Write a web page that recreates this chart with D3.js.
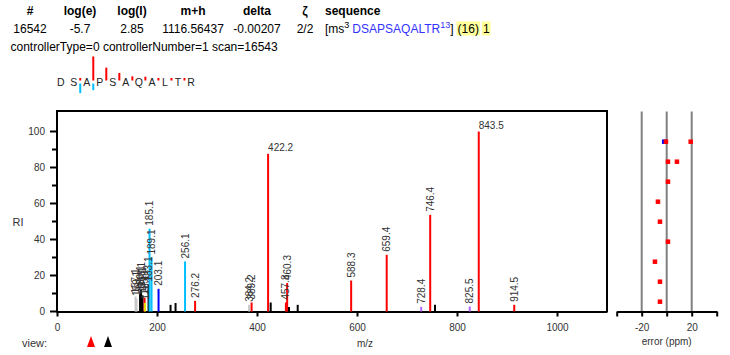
<!DOCTYPE html>
<html><head><meta charset="utf-8">
<script src="https://cdn.jsdelivr.net/npm/d3@7"></script>
<style>body{margin:0;background:#fff;overflow:hidden} svg{font-family:"Liberation Sans",Arial,sans-serif;display:block}</style>
</head><body><svg id="c" width="730" height="355"></svg>
<script>
// ---------- data ----------
const headerCols = ["#","log(e)","log(I)","m+h","delta","ζ","sequence"];
const headerVals = ["16542","-5.7","2.85","1116.56437","-0.00207","2/2"];
const peptide = "DSAPSAQALTR";
const residues = ["D","S","A","P","S","A","Q","A","L","T","R"];
const scanInfo = "controllerType=0 controllerNumber=1 scan=16543";
const msLevel = "3";
const seqStart = "13";
const seqCount = "(16)";
const seqRank = "1";
// fragment marks per cleavage (after residue i)
const yIonMarks = [0, 3.7, 100, 53.7, 31.5, 17.2, 15.8, 5, 5.9, 7.6];
const bIonMarks = [0, 40, 27.8, 0, 0, 0, 0, 0, 0, 0];
// spectrum peaks
const peakMz    = [157.1,159.1,166.1,168.1,171.1,175.1,176.1,183.1,185.1,189.1,203.1,227.1,237.1,256.1,276.2,384.2,389.2,422.2,427.4,457.8,460.3,464.0,481.4,588.3,659.4,728.4,746.4,756.0,825.5,843.5,914.5];
const peakInt   = [8.3,7.0,10,12,9,7.6,4.8,15,46,30,12.6,3.7,4.7,27.8,5.9,3.7,5.0,87.6,5.0,5.0,15.8,2.5,3.7,17.2,31.5,2.6,53.7,3.7,2.8,100,3.7];
const peakType  = ["o","o","n","n","n","y","u","n","bw","bw","b","n","n","bw","y","o","y","y","n","y","y","n","n","y","y","yw","y","n","yw","y","y"];
const peakLabel = ["157.1","159.1","166.1","168.1","171.1","175.1","176.1","183.1","185.1","189.1","203.1","","","256.1","276.2","384.2","389.2","422.2","","457.8","460.3","","","588.3","659.4","728.4","746.4","","825.5","843.5","914.5"];
const xTicks = [0,200,400,600,800,1000];
const yTicks = [0,10,20,30,40,50,60,70,80,90,100];
// mass error panel
const errRow  = [9,9,9,8,8,7,6,5,4,3,2,1];
const errPpm  = [-2.0,-0.6,19.2,1.0,8.2,1.0,-7.0,-5.4,1.0,-9.4,-5.4,-5.4];
const errType = ["b","y","y","y","y","y","y","y","y","y","y","y"];
const errTicks = [-40,-20,0,20,40];
const errGrid = [-20,0,20];

const colors = {y:"#ff0000", yw:"#b366ff", b:"#0000ff", bw:"#00bfff", n:"#000000", o:"#c8c8c8", u:"#e6e600"};

// ---------- drawing ----------
const svg = d3.select("#c");
const txt = "#333";

// header
const colX = [30,80,132,193,257,305];
headerCols.forEach((h,i)=>{
  svg.append("text").attr("x", i<6?colX[i]:325).attr("y",14.5)
    .attr("text-anchor", i<6?"middle":"start").attr("font-size",12).attr("font-weight","bold").attr("fill","#000").text(h);
});
headerVals.forEach((v,i)=>{
  svg.append("text").attr("x",colX[i]).attr("y",32.5).attr("text-anchor","middle").attr("font-size",12).attr("fill","#000").text(v);
});
// sequence cell
(function(){
  let x = 325; const yb = 32.5;
  function put(s, opt){
    const t = svg.append("text").attr("x",x).attr("y",yb - (opt.sup?5:0)).attr("font-size",opt.sup?9:12).attr("fill",opt.fill||"#000").text(s);
    const w = t.node().getComputedTextLength();
    if(opt.hl){ svg.insert("rect","text").attr("x",x-1).attr("y",yb-11).attr("width",w+2).attr("height",14).attr("fill","#ffff99"); }
    x += w;
    return t;
  }
  put("[ms",{}); put(msLevel,{sup:true}); x+=3;
  put(peptide,{fill:"#3333ff"}); put(seqStart,{sup:true,fill:"#3333ff"});
  put("]",{}); x+=4;
  put(seqCount,{hl:true}); x+=4; put(seqRank,{hl:true});
})();
svg.append("text").attr("x",10.5).attr("y",50.5).attr("font-size",12).attr("fill","#000").text(scanInfo);

// sequence fragment diagram
const resX = d3.scaleLinear().domain([0,10]).range([60.7,191]);
const markH = d3.scaleLinear().domain([0,100]).range([0,24]);
svg.append("g").selectAll("text").data(residues).enter().append("text")
  .attr("x",(d,i)=>resX(i)).attr("y",86).attr("text-anchor","middle").attr("font-size",10.5).attr("fill","#222").text(d=>d);
yIonMarks.forEach((v,i)=>{
  if(v<=0) return;
  const h = Math.max(2.5, markH(v));
  svg.append("rect").attr("x",resX(i+0.5)-1).attr("y",80.5-h).attr("width",2).attr("height",h).attr("fill",colors.y);
});
bIonMarks.forEach((v,i)=>{
  if(v<=0) return;
  const h = Math.max(2.5, markH(v));
  svg.append("rect").attr("x",resX(i+0.5)-1).attr("y",83.5).attr("width",2).attr("height",h).attr("fill",colors.bw);
});

// main spectrum
const x = d3.scaleLinear().domain([0,1100]).range([57,607]);
const y = d3.scaleLinear().domain([0,100]).range([311.5,131.5]);

// frame
svg.append("line").attr("x1",56).attr("x2",608).attr("y1",111).attr("y2",111).attr("stroke","#000").attr("stroke-width",2);
svg.append("line").attr("x1",607).attr("x2",607).attr("y1",111).attr("y2",312).attr("stroke","#000").attr("stroke-width",2);

// y axis
svg.append("line").attr("x1",57).attr("x2",57).attr("y1",110).attr("y2",312.5).attr("stroke","#000").attr("stroke-width",2);
yTicks.forEach(t=>{
  const major = t%20===0;
  svg.append("line").attr("x1",major?50:52).attr("x2",57).attr("y1",y(t)).attr("y2",y(t)).attr("stroke","#000").attr("stroke-width",2);
  if(major) svg.append("text").attr("x",45).attr("y",y(t)+3.5).attr("text-anchor","end").attr("font-size",10).attr("fill",txt).text(t);
});
svg.append("text").attr("x",18).attr("y",226).attr("text-anchor","middle").attr("font-size",11).attr("fill",txt).text("RI");

// x axis
const gx = svg.append("g").attr("transform","translate(0,311.5)")
  .call(d3.axisBottom(x).tickValues(xTicks).tickSize(5).tickPadding(7).tickSizeOuter(0).tickFormat(d3.format("d")));
gx.select(".domain").attr("stroke-width",2).attr("stroke","#000");
gx.selectAll(".tick line").attr("stroke-width",2).attr("stroke","#000");
gx.selectAll(".tick text").attr("font-size",10).attr("fill",txt).attr("font-family","Liberation Sans, Arial, sans-serif");
svg.append("text").attr("x",365).attr("y",347).attr("text-anchor","middle").attr("font-size",10).attr("fill",txt).text("m/z");

// peaks
const peaks = peakMz.map((m,i)=>({m, v:peakInt[i], t:peakType[i], l:peakLabel[i]}));
svg.append("g").selectAll("line").data(peaks).enter().append("line")
  .attr("x1",d=>x(d.m)).attr("x2",d=>x(d.m)).attr("y1",y(0)).attr("y2",d=>y(d.v))
  .attr("stroke",d=>colors[d.t]).attr("stroke-width",2);
const lab = svg.append("g").selectAll("text").data(peaks.filter(d=>d.l)).enter().append("text")
  .attr("font-size",10).attr("fill",txt).text(d=>d.l);
lab.filter(d=>d.v>80).attr("x",d=>x(d.m)).attr("y",d=>y(d.v)-2.5);
lab.filter(d=>d.v<=80).attr("transform",d=>`translate(${x(d.m)+3.5},${y(d.v)-3}) rotate(-90)`);

// view controls
svg.append("text").attr("x",22).attr("y",347).attr("font-size",11).attr("fill",txt).text("view:");
[[91,"#ff0000"],[108,"#000"]].forEach(([cx,c])=>{
  svg.append("path").attr("d",`M${cx-4},347 L${cx},336 L${cx+4},347 Z`).attr("fill",c);
});

// error panel
const ex = d3.scaleLinear().domain([-40,40]).range([616.7,716.7]);
const ey = d3.scaleLinear().domain([1,9]).range([301.7,141.7]);
errGrid.forEach(g=>{
  svg.append("line").attr("x1",ex(g)).attr("x2",ex(g)).attr("y1",111.5).attr("y2",311).attr("stroke","#808080").attr("stroke-width",2);
});
const gex = svg.append("g").attr("transform","translate(0,311.5)")
  .call(d3.axisBottom(ex).tickValues(errTicks).tickSize(5).tickPadding(7).tickSizeOuter(0).tickFormat(d=>(d===-20||d===20)?d:""));
gex.select(".domain").attr("stroke-width",2).attr("stroke","#000");
gex.selectAll(".tick line").attr("stroke-width",2).attr("stroke","#000");
gex.selectAll(".tick text").attr("font-size",10).attr("fill",txt).attr("font-family","Liberation Sans, Arial, sans-serif");
svg.append("text").attr("x",666.7).attr("y",344.5).attr("text-anchor","middle").attr("font-size",10).attr("fill",txt).text("error (ppm)");
const errs = errRow.map((r,i)=>({r, e:errPpm[i], t:errType[i]}));
svg.append("g").selectAll("rect").data(errs).enter().append("rect")
  .attr("x",d=>ex(d.e)-2.25).attr("y",d=>ey(d.r)-2.25).attr("width",4.5).attr("height",4.5)
  .attr("fill",d=>d.t==="b"?"#0000ff":"#ff0000");
</script></body></html>
